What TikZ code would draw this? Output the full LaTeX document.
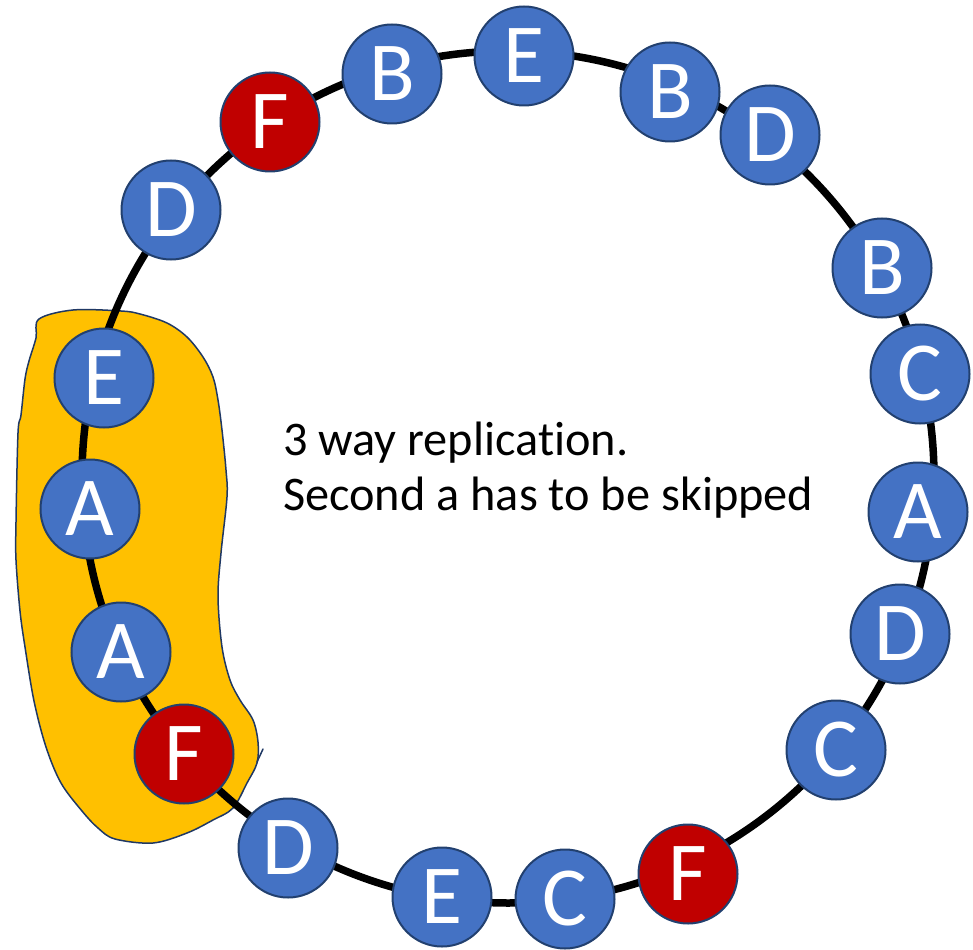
\documentclass[tikz,border=0pt]{standalone}
\usepackage{fontspec}
\setmainfont{Carlito}[Ligatures=NoCommon]
\definecolor{keyblue}{HTML}{4472C4}
\definecolor{keyred}{HTML}{C00000}
\definecolor{keyedge}{HTML}{22406F}
\definecolor{blobfill}{HTML}{FFC000}
\definecolor{blobedge}{HTML}{1F3864}
\begin{document}
\begin{tikzpicture}[x=1pt,y=-1pt,
  ring/.style={line width=7.5pt, black},
  key/.style={circle, minimum size=99pt, inner sep=0pt, line width=2pt,
    draw=keyedge, fill=keyblue, text=white, font=\fontsize{84}{84}\selectfont},
  keyhot/.style={key, fill=keyred},
  blob/.style={fill=blobfill, draw=blobedge, line width=1.5pt, line join=round},
  note/.style={anchor=base west, inner sep=0pt, text=black, font=\fontsize{48.3}{55}\selectfont}]
\useasboundingbox (0,0) rectangle (973,949);

% highlighted replica group
\filldraw[blob] plot[smooth cycle, tension=0.55] coordinates {
  (39,319) (73,310) (121,311) (140,314) (167,323) (187,337) (203,357)
  (213,377) (218,400) (222,430) (226,470) (227,497) (221,553) (218,597)
  (222,647) (230,680) (240,700) (253,720) (258,742) (257,763) (247,783)
  (233,808) (213,820) (187,833) (153,843) (115,839) (98,828) (82,811)
  (61,783) (46,747) (34,701) (25,647) (20,611) (16,560) (16,522) (18,433)
  (21,415) (25,379) (29,361) (36,338)};
\draw[blobedge, line width=1.5pt, line cap=round] (257,762) -- (263,749);

% hash ring
\coordinate (hub) at (508,477);
\draw[ring] (hub) circle[radius=426];

% ring entries, clockwise from the top left
\node[keyhot] (f1) at (270,122) {F};
\node[key]    (b1) at (392,74)  {B};
\node[key]    (e1) at (524,56)  {E};
\node[key]    (b2) at (670,92)  {B};
\node[key]    (d1) at (770,135) {D};
\node[key]    (b3) at (882,268) {B};
\node[key]    (c1) at (920,374) {C};
\node[key]    (a1) at (918,512) {A};
\node[key]    (d2) at (900,634) {D};
\node[key]    (c2) at (836,750) {C};
\node[keyhot] (f2) at (688,874) {F};
\node[key]    (c3) at (565,899) {C};
\node[key]    (e2) at (442,897) {E};
\node[key]    (d3) at (288,848) {D};
\node[keyhot] (f3) at (184,754) {F};
\node[key]    (a2) at (121,652) {A};
\node[key]    (a3) at (90,509)  {A};
\node[key]    (e3) at (104,378) {E};
\node[key]    (d4) at (171,210) {D};

% caption
\node[note] (t1) at (283,455) {3 way replication.};
\node[note] (t2) at (283,510) {Second a has to be skipped};
\end{tikzpicture}
\end{document}
